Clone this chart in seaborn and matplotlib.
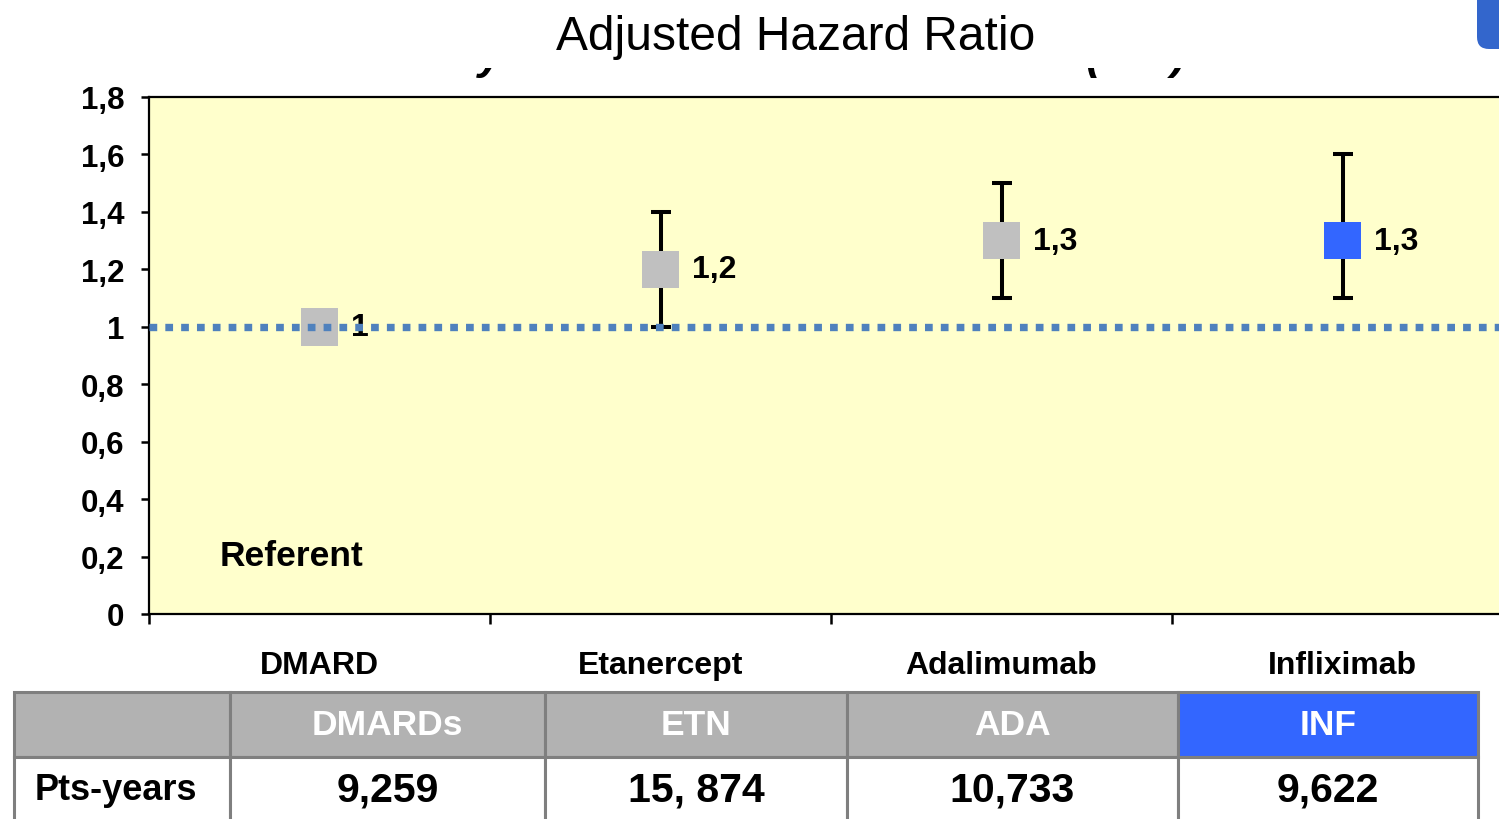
import matplotlib
matplotlib.use("Agg")
import matplotlib.pyplot as plt
from matplotlib.patches import FancyBboxPatch, Rectangle
import seaborn as sns
import pandas as pd

# Hazard ratios with 95% confidence limits
categories = ["DMARD", "Etanercept", "Adalimumab", "Infliximab"]
hazard_ratio = [1.0, 1.2, 1.3, 1.3]
ci_low = [None, 1.0, 1.1, 1.1]
ci_high = [None, 1.4, 1.5, 1.6]
value_labels = ["1", "1,2", "1,3", "1,3"]
marker_colors = ["#C0C0C0", "#C0C0C0", "#C0C0C0", "#3366FF"]

# Exposure table
table_header = ["", "DMARDs", "ETN", "ADA", "INF"]
table_row = ["Pts-years", "9,259", "15, 874", "10,733", "9,622"]
header_colors = ["#B2B2B2", "#B2B2B2", "#B2B2B2", "#B2B2B2", "#3366FF"]
col_widths = [216, 315, 302, 331, 300]

yticks = [0, 0.2, 0.4, 0.6, 0.8, 1.0, 1.2, 1.4, 1.6, 1.8]
ytick_labels = ["0", "0,2", "0,4", "0,6", "0,8", "1", "1,2", "1,4", "1,6", "1,8"]

sns.set_theme(style="white")
plt.rcParams["font.family"] = ["Liberation Sans", "DejaVu Sans"]
plt.rcParams["text.color"] = "black"
plt.rcParams["xtick.color"] = "black"
plt.rcParams["ytick.color"] = "black"

W, H = 1499, 820
fig = plt.figure(figsize=(W / 100, H / 100), dpi=100)

ax = fig.add_axes([149 / W, (H - 615) / H, 1364 / W, 517 / H])
ax.set_facecolor("#FFFFCC")

df = pd.DataFrame({"category": categories, "hr": hazard_ratio,
                   "lo": ci_low, "hi": ci_high, "label": value_labels})
df["x"] = range(len(df))

# error bars
ci = df.dropna(subset=["lo", "hi"])
ax.errorbar(ci["x"], ci["hr"],
            yerr=[ci["hr"] - ci["lo"], ci["hi"] - ci["hr"]],
            fmt="none", ecolor="black", elinewidth=2.9, capsize=7,
            capthick=2.9, zorder=2)

# square point estimates
sns.scatterplot(data=df, x="x", y="hr", hue="category",
                palette=dict(zip(categories, marker_colors)),
                marker="s", s=27 ** 2, edgecolor="none", legend=False,
                ax=ax, zorder=3)

for _, r in df.iterrows():
    ax.annotate(r["label"], (r["x"], r["hr"]), xytext=(23, 0),
                textcoords="offset points", ha="left", va="center",
                fontsize=23, fontweight="bold", color="black", zorder=4)

# reference line
ax.axhline(1.0, color="#4F81BD", lw=5.3, linestyle=(0, (1.05, 1.1)),
           dash_capstyle="butt", zorder=5)

ax.text(71 / 1364, 0.202 / 1.8, "Referent", transform=ax.transAxes,
        ha="left", va="center", fontsize=25.5, fontweight="bold")

ax.set_xlim(-0.5, 3.5)
ax.set_ylim(0, 1.8)
ax.set_yticks(yticks)
ax.set_yticklabels(ytick_labels, fontsize=22.5, fontweight="bold")
ax.set_xticks(range(len(categories)))
ax.set_xticklabels(categories, fontsize=23, fontweight="bold")
ax.set_xticks([-0.5, 0.5, 1.5, 2.5], minor=True)
ax.tick_params(axis="x", which="major", length=0, pad=26)
ax.tick_params(axis="x", which="minor", length=7.5, width=1.8,
               direction="out", color="black", bottom=True)
ax.tick_params(axis="y", length=5.8, width=1.8, direction="out",
               color="black", left=True, pad=12)
ax.set_xlabel("")
ax.set_ylabel("")
for side in ["left", "bottom", "top", "right"]:
    ax.spines[side].set_color("black")
    ax.spines[side].set_linewidth(1.6)

# remnants of an older heading, masked by a white band
for s, xpx in [("y", 478), ("(", 1085), (")", 1171)]:
    fig.text(xpx / W, 1 - 69 / H, s, ha="left", va="baseline",
             fontsize=32, fontweight="bold", fontstyle="italic",
             color="black", zorder=1)
fig.patches.append(Rectangle((0, H - 69), W, 69, transform=None,
                             facecolor="white", edgecolor="none", zorder=5))

fig.text(796 / W, 1 - 50 / H, "Adjusted Hazard Ratio", ha="center",
         va="baseline", fontsize=34.5, color="black", zorder=10)

# corner tab
fig.patches.append(FancyBboxPatch((1477, 770), 40, 70,
                                  boxstyle="round,pad=0,rounding_size=12",
                                  transform=None, facecolor="#3366CC",
                                  edgecolor="none", zorder=10))

# exposure table
tax = fig.add_axes([14 / W, -3 / H, 1464 / W, 130 / H])
tax.axis("off")
total = sum(col_widths)
tbl = tax.table(cellText=[table_row], colLabels=table_header,
                colWidths=[c / total for c in col_widths],
                cellLoc="center", bbox=[0, 0, 1, 1])
tbl.auto_set_font_size(False)
for (row, col), cell in tbl.get_celld().items():
    cell.set_edgecolor("#7F7F7F")
    cell.set_linewidth(2.2)
    txt = cell.get_text()
    txt.set_fontweight("bold")
    if row == 0:
        cell.set_facecolor(header_colors[col])
        txt.set_color("white")
        txt.set_fontsize(25.5)
    else:
        cell.set_facecolor("white")
        txt.set_color("black")
        txt.set_fontsize(29.5)
        if col == 0:
            txt.set_fontsize(26)
            cell.PAD = 0.095
            cell._loc = "left"
            txt.set_horizontalalignment("left")

fig.savefig("out.png", dpi=100)
